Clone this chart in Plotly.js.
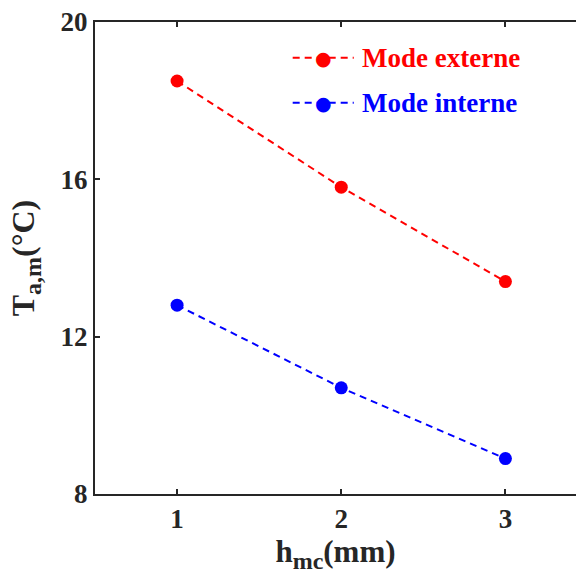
<!DOCTYPE html>
<html>
<head>
<meta charset="utf-8">
<script src="https://cdn.plot.ly/plotly-3.0.1.min.js"></script>
<style>html,body{margin:0;padding:0;background:#fff;}#chart{width:576px;height:578px;}</style>
</head>
<body>
<div id="chart"></div>
<script>
const hmc = [1, 2, 3];
const modeExterne = [18.5, 15.8, 13.4];
const modeInterne = [12.8, 10.7, 8.9];
const seriesNames = ['Mode externe', 'Mode interne'];
const xTicks = [1, 2, 3];
const yTicks = [8, 12, 16, 20];
const colors = ['#ff0000', '#0000ff'];

const FONT = 'Liberation Serif, Times New Roman, serif';
const AX = '#262626';

const traces = [modeExterne, modeInterne].map((ys, i) => ({
  x: hmc, y: ys, type: 'scatter', mode: 'lines+markers',
  name: seriesNames[i],
  line: {color: colors[i], width: 2, dash: '7px,5px'},
  marker: {color: colors[i], size: 13},
  showlegend: false
}));

// custom legend (paper coords)
const legY = [0.924, 0.829];
const shapes = [];
const annotations = [];
legY.forEach((yy, i) => {
  shapes.push({type: 'line', xref: 'paper', yref: 'paper', x0: 0.411, x1: 0.538, y0: yy, y1: yy,
    line: {color: colors[i], width: 2, dash: '7px,5px'}});
  annotations.push({xref: 'paper', yref: 'paper', x: 0.476, y: yy, text: '●', showarrow: false,
    font: {size: 19, color: colors[i], family: 'DejaVu Sans'}, xanchor: 'center', yanchor: 'middle'});
  annotations.push({xref: 'paper', yref: 'paper', x: 0.551, y: yy, text: '<b>' + seriesNames[i] + '</b>',
    showarrow: false, xanchor: 'left', yanchor: 'middle',
    font: {size: 27, color: colors[i], family: FONT}});
});

const layout = {
  width: 576, height: 578,
  margin: {l: 95, r: 0, t: 22, b: 84},
  paper_bgcolor: '#fff', plot_bgcolor: '#fff',
  font: {family: FONT, size: 27, color: AX},
  showlegend: false,
  xaxis: {
    range: [0.5, 3.43], tickvals: xTicks, ticktext: xTicks.map(v => '<b>' + v + '</b>'),
    ticks: 'inside', ticklen: 5, tickwidth: 2, tickcolor: AX,
    showline: true, linewidth: 2, linecolor: AX, mirror: 'ticks',
    showgrid: false, zeroline: false,
    tickfont: {size: 27, family: FONT, color: AX},
    title: {text: '<b>h<sub><span style="font-size:24px">mc</span></sub>(mm)</b>', font: {size: 31, family: FONT, color: AX}, standoff: 7}
  },
  yaxis: {
    range: [8, 20], tickvals: yTicks, ticktext: yTicks.map(v => '<b>' + v + '</b>'),
    ticks: 'inside', ticklen: 5, tickwidth: 2, tickcolor: AX,
    showline: true, linewidth: 2, linecolor: AX, mirror: false,
    showgrid: false, zeroline: false,
    tickfont: {size: 27, family: FONT, color: AX},
    title: {text: '<b>T<sub><span style="font-size:24px">a,m</span></sub>(°C)</b>', font: {size: 32, family: FONT, color: AX}, standoff: 16}
  },
  shapes: shapes,
  annotations: annotations
};

Plotly.newPlot('chart', traces, layout, {displayModeBar: false, staticPlot: true});
</script>
</body>
</html>
